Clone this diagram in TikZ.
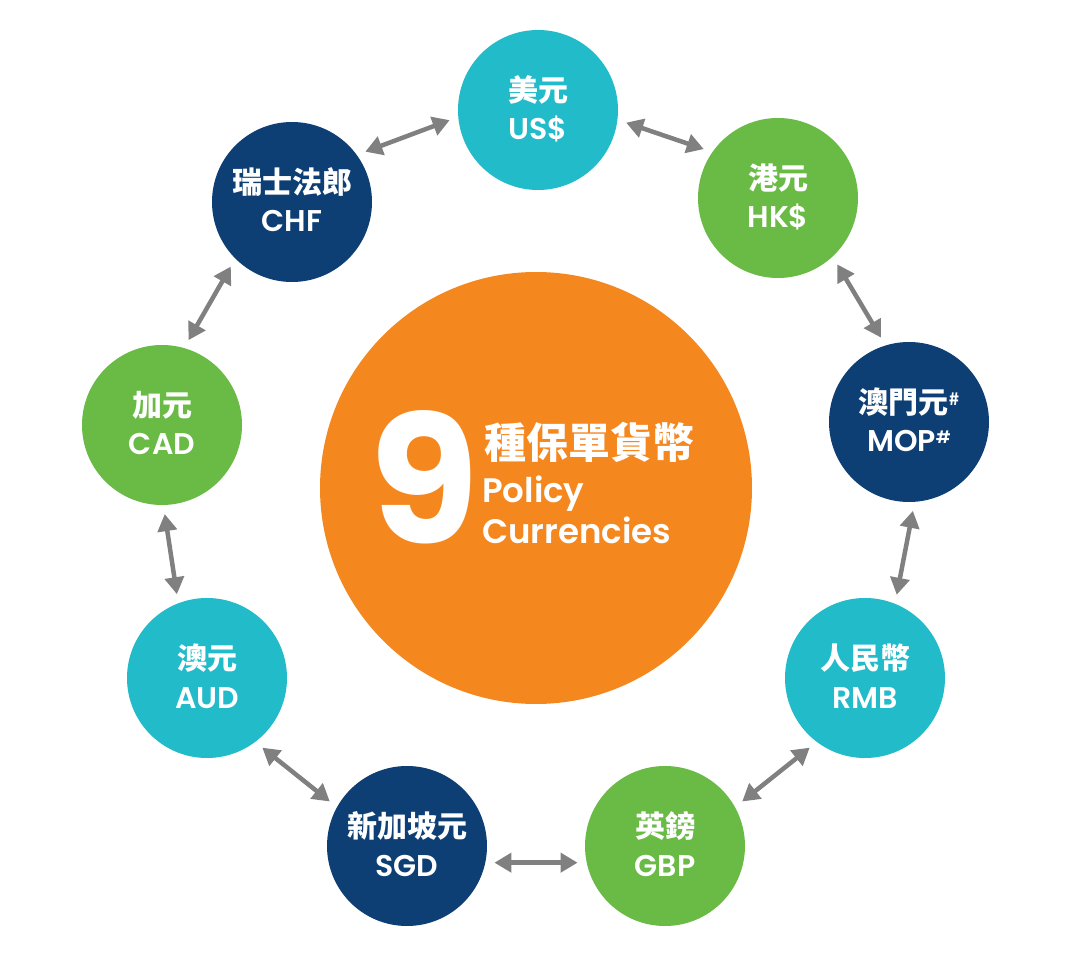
\documentclass[tikz,border=0pt]{standalone}
\usepackage{fontspec}
\usetikzlibrary{arrows.meta}
\newfontfamily\zhfont{Noto Sans CJK TC}
\newfontfamily\enfont{Poppins}
\newfontfamily\enmed{Poppins SemiBold}
\definecolor{cteal}{HTML}{22BBC9}
\definecolor{cgreen}{HTML}{69BB45}
\definecolor{cnavy}{HTML}{0D3F75}
\definecolor{corange}{HTML}{F5871F}
\definecolor{carrow}{HTML}{808080}
\newcommand{\curcircle}[6]{%
  \node[curbox, fill=#4] (#1) at (#2,#3) {};
  \node[zhlab] (#1zh) at ([yshift=8.6pt]#1.center) {#5};
  \node[enlab] (#1en) at ([yshift=-30pt]#1.center) {#6};
}
\newcommand{\supsharp}{{\fontsize{17}{17}\selectfont\raisebox{8pt}{\#}}}
\begin{document}
\begin{tikzpicture}[x=1pt,y=-1pt,
  curbox/.style={circle, minimum size=160pt, inner sep=0pt, draw=none},
  zhlab/.style={anchor=base, inner sep=0pt, text=white, font=\zhfont\bfseries\fontsize{30}{30}\selectfont},
  enlab/.style={anchor=base, inner sep=0pt, text=white, font=\enmed\fontsize{30}{30}\selectfont},
  conn/.style={carrow, line width=4.5pt, {Triangle[length=17pt,width=19pt]}-{Triangle[length=17pt,width=19pt]}, shorten <=9pt, shorten >=9pt},
  centertxt/.style={anchor=base west, inner sep=0pt, text=white}
]
\useasboundingbox[fill=white] (0,0) rectangle (1080,968);
% central circle
\node[circle, minimum size=432pt, inner sep=0pt, fill=corange] (core) at (536,488) {};
\node[anchor=base, inner sep=0pt, text=white, font=\enfont\bfseries\fontsize{178}{178}\selectfont] (nine) at (424,543) {9};
\node[centertxt, font=\zhfont\bfseries\fontsize{42}{42}\selectfont] (czh) at (484,458) {種保單貨幣};
\node[centertxt, font=\enmed\fontsize{34}{34}\selectfont] (cpol) at (482,502) {Policy};
\node[centertxt, font=\enmed\fontsize{34}{34}\selectfont] (ccur) at (482,543) {Currencies};
% currency circles
\curcircle{us}{538}{110}{cteal}{美元}{US\$}
\curcircle{hk}{778}{198}{cgreen}{港元}{HK\$}
\curcircle{mop}{909}{422}{cnavy}{澳門元\supsharp}{MOP\supsharp}
\curcircle{rmb}{865}{678}{cteal}{人民幣}{RMB}
\curcircle{gbp}{665}{846}{cgreen}{英鎊}{GBP}
\curcircle{sgd}{407}{846}{cnavy}{新加坡元}{SGD}
\curcircle{aud}{207}{678}{cteal}{澳元}{AUD}
\curcircle{cad}{162}{425}{cgreen}{加元}{CAD}
\curcircle{chf}{292}{202}{cnavy}{瑞士法郎}{CHF}
% connectors
\draw[conn] (chf.36) -- (us.185);
\draw[conn] (us.-7) -- (hk.145);
\draw[conn] (hk.-47) -- (mop.107);
\draw[conn] (mop.-86) -- (rmb.68);
\draw[conn] (rmb.-127) -- (gbp.29);
\draw[conn] (gbp.192) -- (sgd.-12);
\draw[conn] (sgd.151) -- (aud.-53);
\draw[conn] (aud.111) -- (cad.-89);
\draw[conn] (cad.74) -- (chf.225);
\end{tikzpicture}
\end{document}
